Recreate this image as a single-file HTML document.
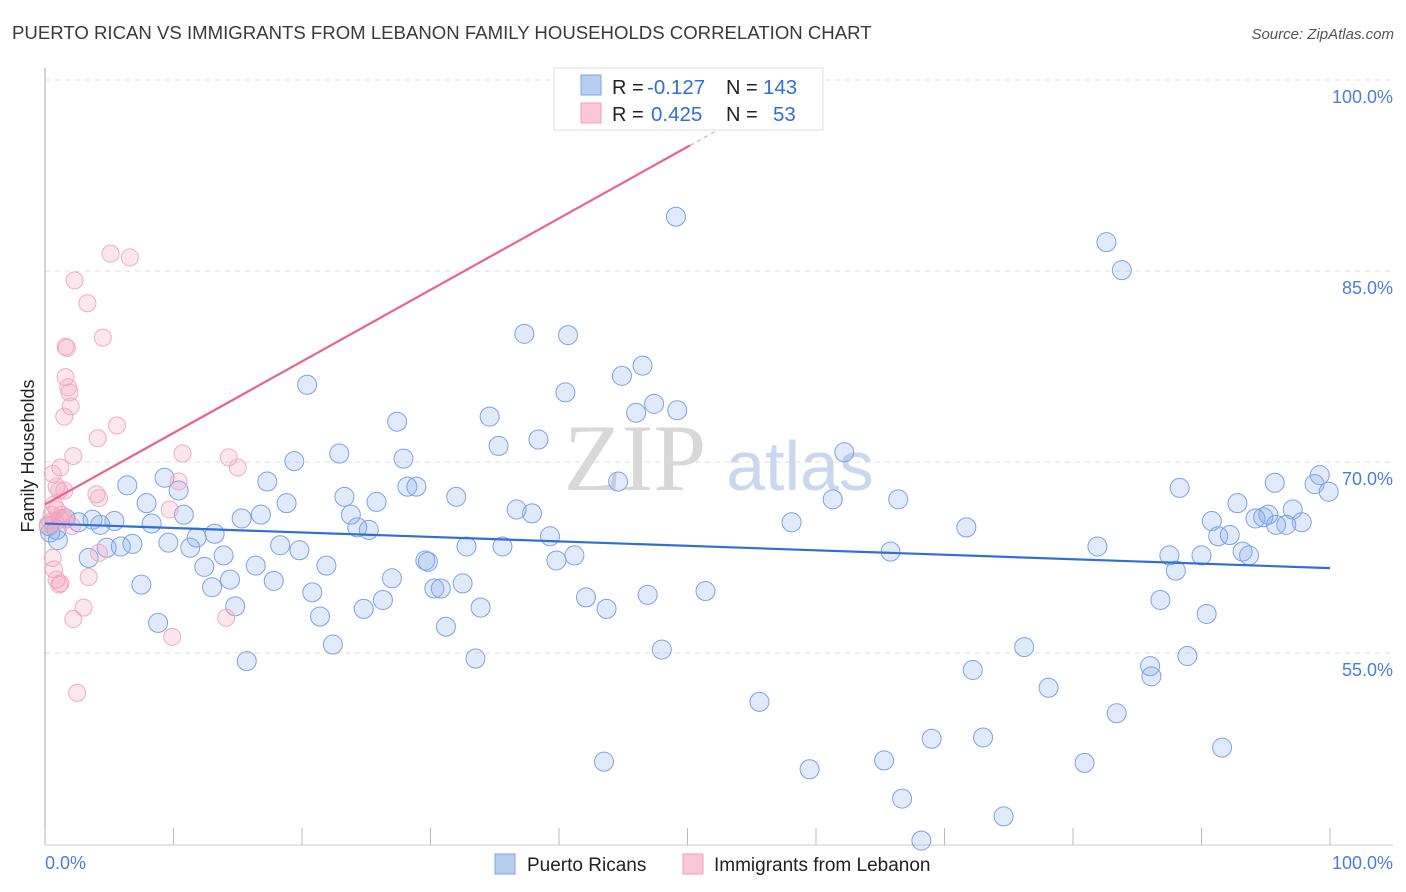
<!DOCTYPE html>
<html><head><meta charset="utf-8">
<style>
body{margin:0;background:#fff;font-family:"Liberation Sans",sans-serif;}
svg{display:block}
</style></head>
<body>
<svg id="chart" width="1406" height="892">
<text x="12" y="39" font-size="18.6" fill="#3a3a3a">PUERTO RICAN VS IMMIGRANTS FROM LEBANON FAMILY HOUSEHOLDS CORRELATION CHART</text>
<text x="1394" y="39" font-size="15" fill="#555" font-style="italic" text-anchor="end">Source: ZipAtlas.com</text>
<text x="635" y="490" font-size="95" fill="#d8d8d8" font-family="Liberation Serif" text-anchor="middle">ZIP</text>
<text x="800" y="490" font-size="70" fill="#c9d8ef" text-anchor="middle">atlas</text>
<g id="grid"></g>
<g id="axes"></g>
<g id="pts"></g>
<g id="lines"></g>
<text transform="translate(34,456) rotate(-90)" font-size="18" fill="#222" text-anchor="middle">Family Households</text>
<g>
<rect x="554" y="68" width="269" height="62" fill="#fff" stroke="#ddd"/>
<rect x="581" y="75" width="20" height="20" fill="#b7cdf2" stroke="#7fa4e4"/>
<rect x="581" y="103" width="20" height="20" fill="#fbc7d6" stroke="#f1a1b9"/>
<text x="612" y="94" font-size="20" fill="#222">R = </text>
<text x="647" y="94" font-size="20.5" fill="#2f6fd6">-0.127</text>
<text x="726" y="94" font-size="20" fill="#222">N =</text>
<text x="763" y="94" font-size="20.5" fill="#2f6fd6">143</text>
<text x="612" y="121" font-size="20" fill="#222">R = </text>
<text x="651" y="121" font-size="20.5" fill="#2f6fd6">0.425</text>
<text x="726" y="121" font-size="20" fill="#222">N =</text>
<text x="773" y="121" font-size="20.5" fill="#2f6fd6">53</text>
</g>
<g>
<rect x="495" y="854" width="20" height="20" fill="#b7cdf2" stroke="#7fa4e4"/>
<text x="527" y="871" font-size="19" fill="#222">Puerto Ricans</text>
<rect x="683" y="854" width="20" height="20" fill="#fbc7d6" stroke="#f1a1b9"/>
<text x="714" y="871" font-size="19" fill="#222">Immigrants from Lebanon</text>
</g>
</svg>
<script>
const yTicks=[100,85,70,55];
const yTickLabels=["100.0%","85.0%","70.0%","55.0%"];
const xTickLabels=["0.0%","100.0%"];
const blueX=[49.1,82.6,83.8,37.3,40.7,46.5,44.9,20.4,40.5,47.4,49.2,46.0,34.6,27.4,38.4,35.3,62.2,22.9,27.9,19.4,9.3,6.4,17.3,10.4,28.2,28.9,44.6,99.2,98.8,99.9,88.3,66.4,61.3,95.7,23.3,32.0,25.8,18.8,7.9,92.8,36.7,37.9,10.8,16.8,23.8,15.3,97.1,95.2,94.8,94.2,97.8,96.6,95.8,90.8,58.1,71.7,24.3,25.2,8.3,5.4,4.3,1.6,0.9,3.7,2.6,13.2,11.8,9.6,6.8,5.9,11.3,4.8,3.4,39.3,91.3,92.2,81.9,32.8,35.6,19.8,18.3,93.2,87.5,90.0,93.7,65.8,41.2,39.8,29.6,29.8,13.9,12.4,21.9,16.4,88.0,7.5,13.0,17.8,14.4,27.0,32.5,30.3,30.8,20.8,26.3,42.1,46.9,51.4,33.9,24.8,14.8,21.4,43.7,86.8,90.4,8.8,31.2,22.4,48.0,76.2,33.5,15.7,88.9,86.0,86.1,72.2,78.1,55.6,83.4,69.0,73.0,91.6,43.5,65.3,59.5,80.9,66.7,74.6,68.2,0.4,0.3,1.0];
const blueY=[90.6,88.6,86.4,81.4,81.3,78.9,78.1,77.4,76.8,75.9,75.4,75.2,74.9,74.5,73.1,72.6,72.1,72.0,71.6,71.4,70.1,69.5,69.8,69.1,69.4,69.4,69.8,70.3,69.6,69.0,69.3,68.4,68.4,69.7,68.6,68.6,68.2,68.1,68.1,68.1,67.6,67.3,67.2,67.2,67.2,66.9,67.6,67.2,67.0,66.9,66.6,66.4,66.4,66.7,66.6,66.2,66.2,66.0,66.5,66.7,66.4,66.9,66.0,66.8,66.6,65.7,65.4,65.0,64.9,64.7,64.6,64.6,63.8,65.5,65.5,65.6,64.7,64.7,64.7,64.4,64.8,64.3,64.0,64.0,64.0,64.3,64.0,63.6,63.6,63.5,64.0,63.1,63.2,63.2,62.8,61.7,61.5,62.0,62.1,62.2,61.8,61.4,61.4,61.1,60.5,60.7,60.9,61.2,59.9,59.8,60.0,59.2,59.8,60.5,59.4,58.7,58.4,57.0,56.6,56.8,55.9,55.7,56.1,55.3,54.5,55.0,53.6,52.5,51.6,49.6,49.7,48.9,47.8,47.9,47.2,47.7,44.9,43.5,41.6,65.8,66.3,65.2];
const pinkX=[5.1,6.6,2.3,3.3,4.5,1.6,1.7,1.6,1.8,1.9,2.0,1.5,5.6,4.1,10.7,14.3,15.0,2.2,1.2,0.6,0.9,1.5,1.1,10.4,4.0,4.2,9.7,0.7,0.9,0.5,1.2,2.1,4.2,0.6,0.7,0.9,1.2,3.4,1.1,3.0,2.2,14.1,9.9,2.5,0.4,0.2,0.8,1.6,1.3];
const pinkY=[87.7,87.4,85.6,83.8,81.1,80.4,80.3,78.0,77.2,76.8,75.7,74.9,74.2,73.2,72.0,71.7,70.9,71.8,70.9,70.4,69.4,69.1,69.1,69.8,68.8,68.5,67.6,68.0,67.6,67.2,66.9,66.3,64.2,63.8,62.9,62.1,61.8,62.3,61.7,59.9,59.0,59.1,57.6,53.2,66.6,66.4,66.6,66.8,67.2];
const blueTrendX=[0,100];
const blueTrendY=[66.5,63.0];
const pinkTrendX=[0,50.2,52.5];
const pinkTrendY=[68.0,96.2,97.5];

const NS="http://www.w3.org/2000/svg";
const X0=45,X1=1330;
function xs(v){return X0+(X1-X0)*v/100;}
function ys(v){return 97+(100-v)*12.733;}
function mk(tag,attrs,parent){const e=document.createElementNS(NS,tag);for(const k in attrs)e.setAttribute(k,attrs[k]);document.getElementById(parent).appendChild(e);return e;}

yTicks.forEach((t,i)=>{
  const g=mk('line',{x1:X0,x2:1393,y1:ys(t)-17,y2:ys(t)-17,stroke:'#dcdcdc','stroke-dasharray':'5,5'},'grid');
  
  
  const l=mk('text',{x:1393,y:ys(t)+6,'font-size':18,fill:'#4a7fd6','text-anchor':'end'},'grid');
  l.textContent=yTickLabels[i];
  
  
});
let a=mk('line',{x1:X0,x2:X0,y1:68,y2:845,stroke:'#aaa'},'axes');


a=mk('line',{x1:X0,x2:1393,y1:845,y2:845,stroke:'#ccc'},'axes');


for(let i=0;i<=10;i++){
  const t=mk('line',{x1:xs(i*10),x2:xs(i*10),y1:828,y2:845,stroke:'#bbb'},'axes');
  
  
}
let xl=mk('text',{x:45,y:869,'font-size':18,fill:'#4a7fd6'},'axes');
xl.textContent=xTickLabels[0];


xl=mk('text',{x:1393,y:869,'font-size':18,fill:'#4a7fd6','text-anchor':'end'},'axes');
xl.textContent=xTickLabels[1];



blueX.forEach((v,i)=>{
  const c=mk('circle',{cx:xs(v),cy:ys(blueY[i]),r:9.5,fill:'rgba(130,170,235,0.25)',stroke:'#7ba3e6','stroke-width':1},'pts');
  
  
});
pinkX.forEach((v,i)=>{
  const c=mk('circle',{cx:xs(v),cy:ys(pinkY[i]),r:8.5,fill:'rgba(245,160,185,0.25)',stroke:'#f2aac0','stroke-width':1},'pts');
  
  
});
let tl=mk('line',{x1:xs(blueTrendX[0]),y1:ys(blueTrendY[0]),x2:xs(blueTrendX[1]),y2:ys(blueTrendY[1]),stroke:'#2f6fd6','stroke-width':2.2},'lines');


tl=mk('line',{x1:xs(pinkTrendX[0]),y1:ys(pinkTrendY[0]),x2:xs(pinkTrendX[1]),y2:ys(pinkTrendY[1]),stroke:'#e8648f','stroke-width':2.2},'lines');


tl=mk('line',{x1:xs(pinkTrendX[1]),y1:ys(pinkTrendY[1]),x2:xs(pinkTrendX[2]),y2:ys(pinkTrendY[2]),stroke:'#e8a0b8','stroke-width':1.2,'stroke-dasharray':'4,4'},'lines');


</script>
</body></html>
